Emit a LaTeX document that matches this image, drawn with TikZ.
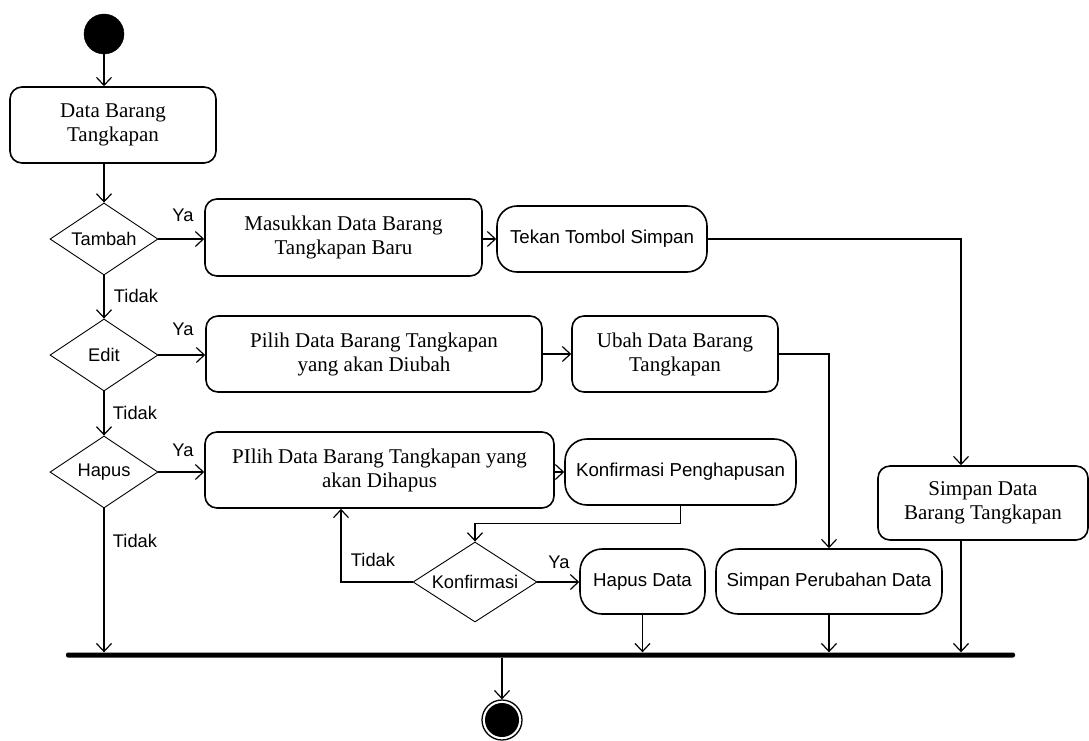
\documentclass[tikz,border=0pt]{standalone}
\usepackage{fontspec}
\setmainfont{Liberation Serif}
\newfontfamily\arialf{Liberation Sans}
\usetikzlibrary{arrows.meta,shapes.geometric}
\tikzset{
  act/.style={draw, line width=1.6pt, inner sep=0pt, align=center,
    font=\fontsize{21}{24}\selectfont},
  actsans/.style={act, font=\arialf\fontsize{18.7}{21}\selectfont},
  dec/.style={draw, line width=0.9pt, shape=diamond, aspect=1.5, inner sep=0pt,
    font=\arialf\fontsize{18.3}{21}\selectfont},
  lbl/.style={inner sep=0pt, font=\arialf\fontsize{18.3}{21}\selectfont},
  flow/.style={line width=1.2pt, -{Straight Barb[length=8pt,width=15pt,line width=1.2pt]}},
}
\begin{document}
\begin{tikzpicture}[x=1pt,y=-1pt]
\useasboundingbox (0,0) rectangle (1089,740);
% start
\node[circle, fill=black, draw, minimum size=40pt, inner sep=0pt] (start) at (104,34) {};
% activities
\node[act, rounded corners=12pt, minimum width=206pt, minimum height=76pt] (b0) at (113,125) {Data Barang\\Tangkapan};
\node[act, rounded corners=12pt, minimum width=277pt, minimum height=77pt] (b1) at (343.5,237.5) {Masukkan Data Barang\\Tangkapan Baru};
\node[actsans, rounded corners=20pt, minimum width=210pt, minimum height=66pt] (b2) at (602,239) {Tekan Tombol Simpan};
\node[act, rounded corners=12pt, minimum width=336pt, minimum height=76pt] (b3) at (374,354) {Pilih Data Barang Tangkapan\\yang akan Diubah};
\node[act, rounded corners=12pt, minimum width=206pt, minimum height=76pt] (b4) at (675,354) {Ubah Data Barang\\Tangkapan};
\node[act, rounded corners=12pt, minimum width=349pt, minimum height=76pt] (b5) at (379.5,470) {PIlih Data Barang Tangkapan yang\\akan Dihapus};
\node[actsans, rounded corners=22pt, minimum width=231pt, minimum height=66pt] (b6) at (680.5,472) {Konfirmasi Penghapusan};
\node[actsans, rounded corners=22pt, minimum width=125pt, minimum height=65pt] (b7) at (642.5,581.5) {Hapus Data};
\node[actsans, rounded corners=22pt, minimum width=226pt, minimum height=65pt] (b8) at (829,581.5) {Simpan Perubahan Data};
\node[act, rounded corners=12pt, minimum width=210pt, minimum height=74pt] (b9) at (983,503) {Simpan Data\\Barang Tangkapan};
% decisions
\node[dec, minimum width=108pt, minimum height=72pt] (d1) at (104,239) {Tambah};
\node[dec, minimum width=108pt, minimum height=72pt] (d2) at (104,355) {Edit};
\node[dec, minimum width=108pt, minimum height=72pt] (d3) at (104,472) {Hapus};
\node[dec, minimum width=124pt, minimum height=80pt] (d4) at (475,582) {Konfirmasi};
% join bar
\node[fill=black, minimum width=949pt, minimum height=5pt, inner sep=0pt, rounded corners=2pt] (bar) at (540.5,655) {};
% final
\node[circle, draw, line width=1.3pt, minimum size=40pt, inner sep=0pt] (final) at (502,720) {};
\node[circle, fill=black, minimum size=34pt, inner sep=0pt] (finalin) at (final.center) {};
% labels
\node[lbl] (ya1) at (183,215) {Ya};
\node[lbl] (td1) at (136,296) {Tidak};
\node[lbl] (ya2) at (183,329) {Ya};
\node[lbl] (td2) at (135,413) {Tidak};
\node[lbl] (ya3) at (183,450) {Ya};
\node[lbl] (td3) at (135,541) {Tidak};
\node[lbl] (td4) at (373,560) {Tidak};
\node[lbl] (ya4) at (559,562) {Ya};
% connectors
\draw[flow] (start.south) -- (start.south |- b0.north);
\draw[flow] (d1.north |- b0.south) -- (d1.north);
\draw[flow] (d1.east) -- (d1.east -| b1.west);
\draw[flow] (b1.east |- b2.west) -- (b2.west);
\draw[flow] (b2.east) -| ([xshift=-22pt]b9.north);
\draw[flow] (d1.south) -- (d2.north);
\draw[flow] (d2.east) -- (d2.east -| b3.west);
\draw[flow] (b3.east) -- (b4.west);
\draw[flow] (b4.east) -| (b8.north);
\draw[flow] (d2.south) -- (d3.north);
\draw[flow] (d3.east) -- (d3.east -| b5.west);
\draw[flow] (b5.east |- b6.west) -- (b6.west);
\draw[flow] (b6.south) -- ++(0,18) -| (d4.north);
\draw[flow] (d4.west) -| ([xshift=-38.5pt]b5.south);
\draw[flow] (d4.east) -- (d4.east -| b7.west);
\draw[flow] (d3.south) -- (d3.south |- bar.north);
\draw[flow] (b7.south) -- (b7.south |- bar.north);
\draw[flow] (b8.south) -- (b8.south |- bar.north);
\draw[flow] ([xshift=-22pt]b9.south) -- ([xshift=-22pt]b9.south |- bar.north);
\draw[flow] (final.north |- bar.south) -- (final.north);
\end{tikzpicture}
\end{document}
